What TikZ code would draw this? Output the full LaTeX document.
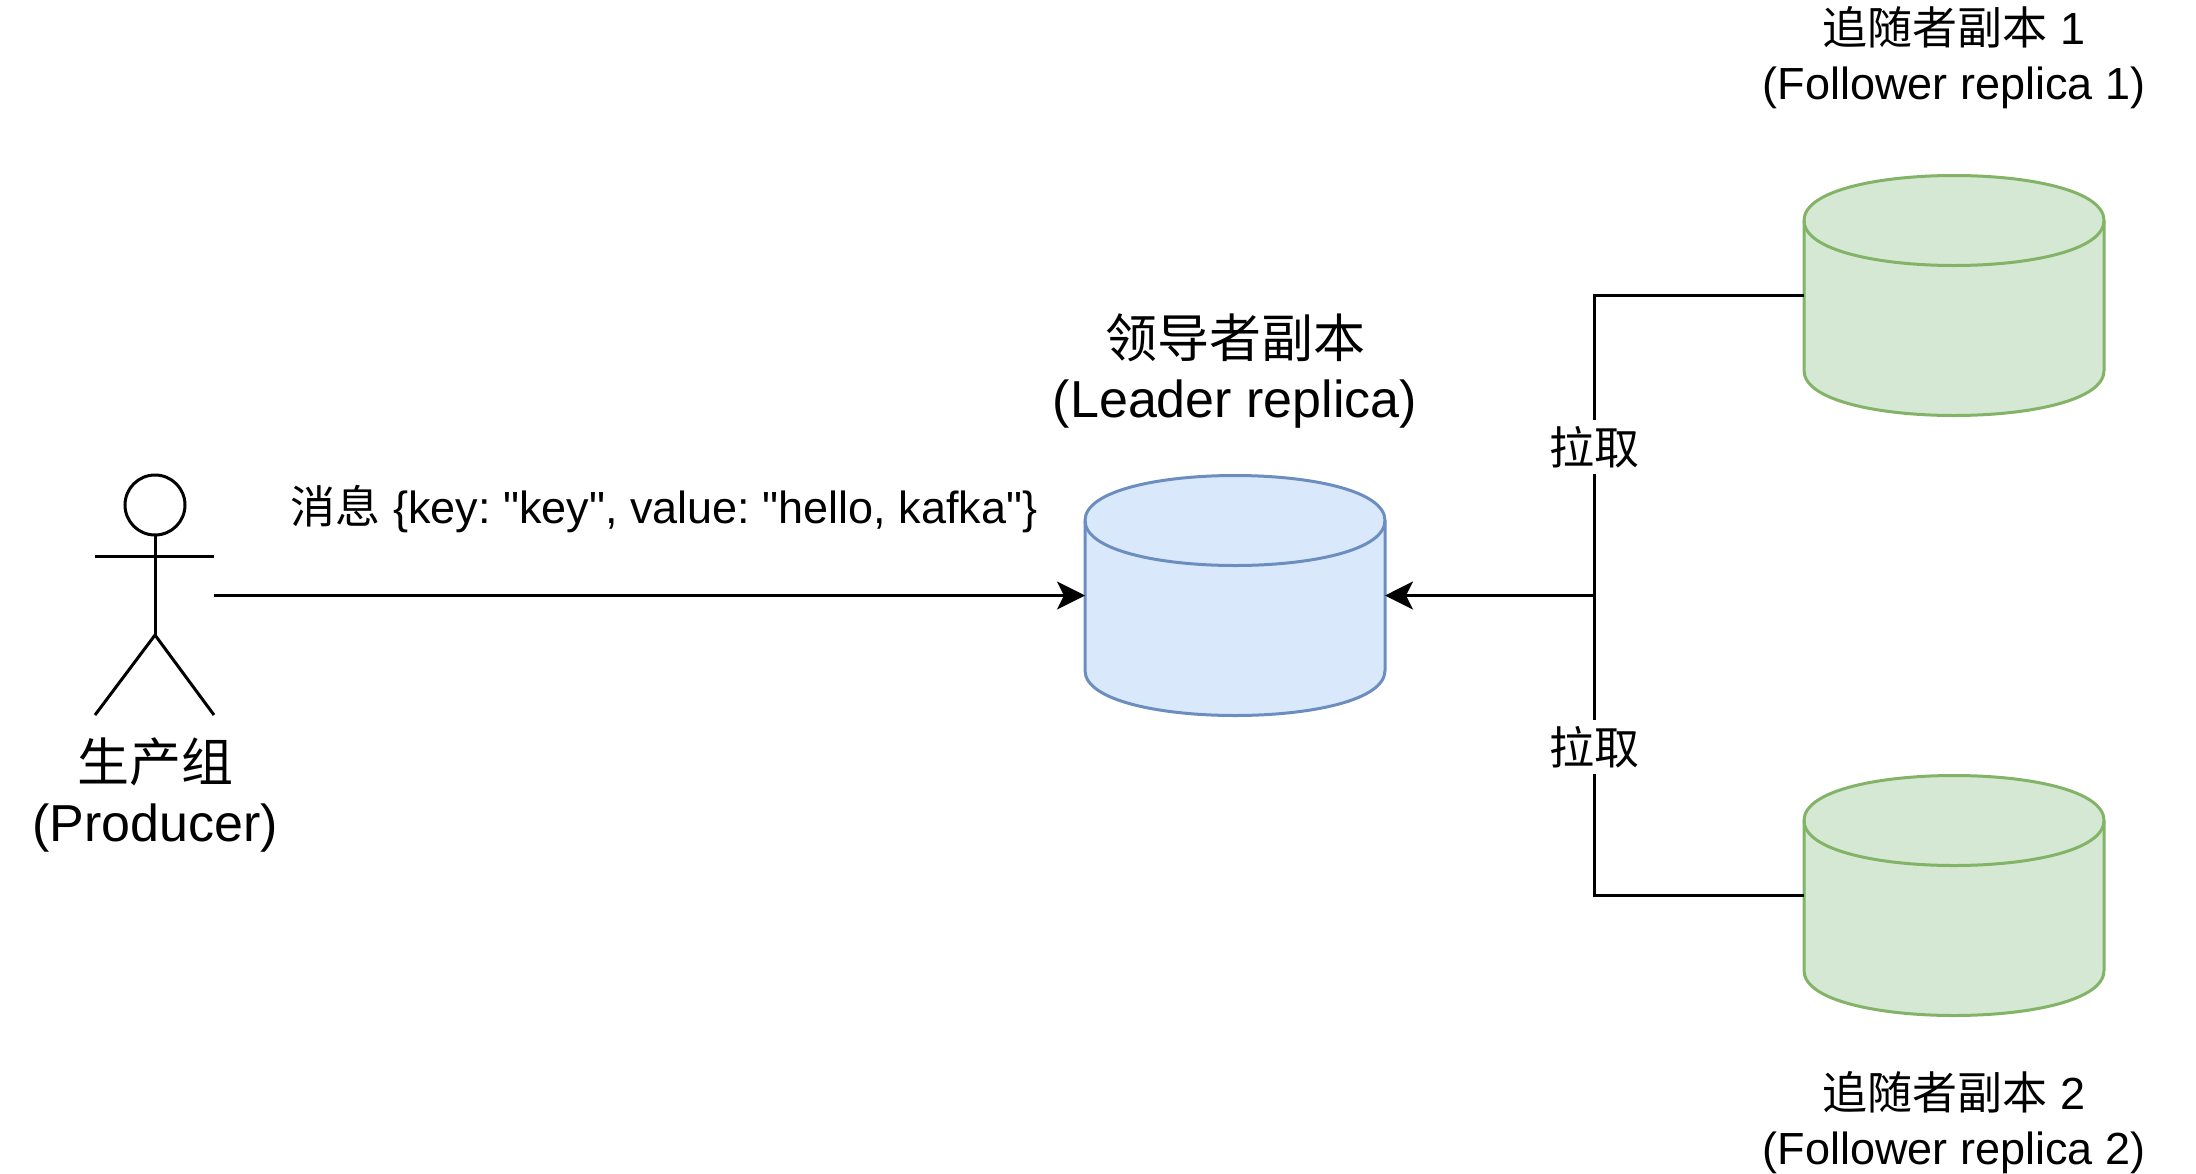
\documentclass[tikz,border=0pt]{standalone}
\usepackage{fontspec}
\setmainfont{Liberation Sans}
\newfontfamily\plainfont{Liberation Sans}
\newfontfamily\cjk{Noto Sans CJK SC}
\usetikzlibrary{arrows.meta}
\definecolor{bluefill}{HTML}{DAE8FC}
\definecolor{blueline}{HTML}{6C8EBF}
\definecolor{greenfill}{HTML}{D5E8D4}
\definecolor{greenline}{HTML}{82B366}
\tikzset{
  dbbox/.style={rectangle,minimum width=150pt,minimum height=120pt,inner sep=0pt,outer sep=0pt},
  bigtext/.style={align=center,inner sep=0pt,font=\fontsize{26}{30}\selectfont},
  smalltext/.style={align=center,inner sep=0pt,font=\fontsize{22.5}{27.5}\selectfont\frenchspacing},
  link/.style={draw=black,line width=1.5pt},
  pull/.style={-{Stealth[length=14pt,width=14pt,inset=3.5pt]}},
  stick/.style={draw=black,line width=1.5pt},
}
\newcommand{\replicadb}[4]{
    \node[dbbox] (#1) at (#2) {};
    \begin{scope}[shift={(#1.north west)},line width=1.5pt,draw=#4]
        \draw[fill=#3] (0,45) .. controls (0,-15) and (300,-15) .. (300,45) -- (300,195)
            .. controls (300,255) and (0,255) .. (0,195) -- cycle;
        \draw (0,45) .. controls (0,105) and (300,105) .. (300,45);
    \end{scope}
}

\begin{document}
\begin{tikzpicture}[x=0.5pt,y=-0.5pt]
        \useasboundingbox (0,0) rectangle (2196,1173);

        % the producer
        \node[stick,circle,minimum size=30pt,inner sep=0pt,outer sep=0pt] (head) at (155,505) {};
        \coordinate (armL) at (95,556);
        \coordinate (armR) at (214,556);
        \coordinate (hip) at (155,635);
        \coordinate (footL) at (95,715);
        \coordinate (footR) at (214,715);
        \draw[stick] (head.south) -- (hip);
        \draw[stick] (armL) -- (armR);
        \draw[stick] (footL) -- (hip) -- (footR);
        \node[bigtext] (producer) at (155,795) {{\cjk 生产组}\\(Producer)};

        % the replicas
        \replicadb{leader}{1235,595.5}{bluefill}{blueline}
        \replicadb{follower1}{1954,295.5}{greenfill}{greenline}
        \replicadb{follower2}{1954,895.5}{greenfill}{greenline}
        \node[bigtext] (leadertext) at (1235,371) {{\cjk 领导者副本}\\(Leader replica)};
        \node[smalltext] (followertext1) at (1954,58) {{\cjk 追随者副本} 1\\(Follower replica 1)};
        \node[smalltext] (followertext2) at (1954,1123) {{\cjk 追随者副本} 2\\(Follower replica 2)};

        % the links
        \coordinate (sender) at (214,595.5);
        \coordinate (junction) at (1594,595.5);
        \draw[link,pull] (sender) -- (leader.west);
        \draw[link] (follower1.west) -| (junction);
        \draw[link] (follower2.west) -| (junction);
        \draw[link,pull] (junction) -- (leader.east);
        \node[smalltext] (message) at (664,509) {{\cjk 消息} {\plainfont \{key: "key", value: "hello, kafka"\}}};
        \node[smalltext,fill=white,minimum height=27pt] (pull1) at (1594,447) {{\cjk 拉取}};
        \node[smalltext,fill=white,minimum height=27pt] (pull2) at (1594,747) {{\cjk 拉取}};
\end{tikzpicture}
\end{document}
